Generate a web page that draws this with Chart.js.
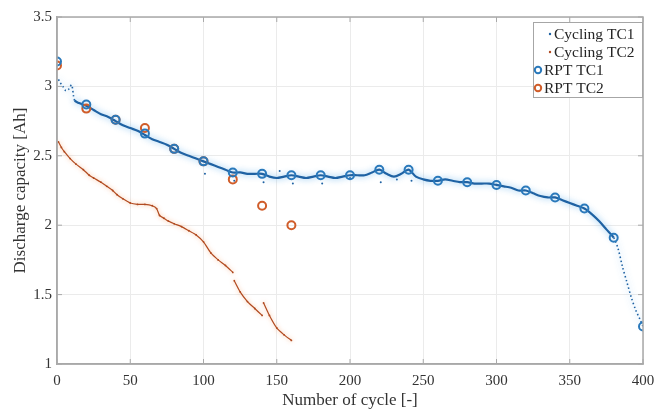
<!DOCTYPE html>
<html>
<head>
<meta charset="utf-8">
<title>Discharge capacity</title>
<script src="https://cdn.jsdelivr.net/npm/chart.js@4/dist/chart.umd.min.js"></script>
<style>
  html, body { margin: 0; padding: 0; background: #fff; }
</style>
</head>
<body>
<canvas id="capacityChart" width="658" height="411"></canvas>
<script>
// Cycling data, cell TC1 (cycle number / capacity in Ah)
const cycTc1Cycles = [1, 2, 4, 6, 8, 10, 12, 15, 20, 25, 30, 35, 40, 45, 50, 55, 60, 65, 70, 75, 80, 85, 90, 95,
  100, 105, 110, 115, 120, 125, 130, 135, 140, 145, 150, 155, 160, 165, 170, 175, 180, 185, 190, 195,
  200, 205, 210, 215, 220, 225, 230, 235, 240, 245, 250, 255, 260, 265, 270, 275, 280, 285, 290, 295,
  300, 305, 310, 315, 320, 325, 330, 335, 340, 345, 350, 355, 360, 365, 370, 375, 380, 383, 386, 389,
  392, 395, 398, 400];
const cycTc1Capacity = [3.05, 3.03, 3.00, 2.97, 2.98, 3.01, 2.90, 2.88, 2.86, 2.83, 2.80, 2.78, 2.75, 2.72, 2.70, 2.68, 2.65, 2.62, 2.60, 2.58, 2.55, 2.52, 2.50, 2.48,
  2.46, 2.44, 2.42, 2.40, 2.38, 2.38, 2.37, 2.37, 2.37, 2.35, 2.34, 2.35, 2.36, 2.35, 2.34, 2.35, 2.36, 2.35, 2.34, 2.35,
  2.36, 2.36, 2.36, 2.38, 2.40, 2.37, 2.35, 2.37, 2.40, 2.35, 2.33, 2.32, 2.32, 2.33, 2.32, 2.31, 2.31, 2.30, 2.30, 2.30,
  2.29, 2.28, 2.27, 2.25, 2.25, 2.23, 2.21, 2.20, 2.20, 2.18, 2.16, 2.14, 2.12, 2.08, 2.03, 1.97, 1.91, 1.83, 1.70, 1.59,
  1.48, 1.39, 1.32, 1.27];

// stray TC1 cycling points off the main trace
const cycTc1StrayCycles = [101, 121, 141, 152, 161, 181, 200, 221, 232, 242];
const cycTc1StrayCapacity = [2.37, 2.32, 2.31, 2.39, 2.30, 2.30, 2.34, 2.31, 2.33, 2.32];

// Cycling data, cell TC2 (null = break in the trace)
const cycTc2Cycles = [1, 3, 5, 9, 13, 18, 22, 25, 30, 34, 38, 41, 45, 50, 55, 60, 65, 68, 70, 73, 76, 80, 85, 90, 95,
  100, 105, 110, 115, 120, 120.5, 121, 125, 130, 135, 140, 140.5, 141, 145, 150, 155, 160];
const cycTc2Capacity = [2.60, 2.56, 2.53, 2.48, 2.44, 2.40, 2.36, 2.34, 2.31, 2.28, 2.25, 2.22, 2.19, 2.16, 2.15, 2.15, 2.14, 2.12, 2.07, 2.05, 2.03, 2.01, 1.99, 1.96, 1.93,
  1.88, 1.80, 1.75, 1.71, 1.66, null, 1.60, 1.52, 1.45, 1.40, 1.35, null, 1.44, 1.35, 1.26, 1.21, 1.17];

// Reference performance tests
const rptTc1Cycles = [0, 20, 40, 60, 80, 100, 120, 140, 160, 180, 200, 220, 240, 260, 280, 300, 320, 340, 360, 380, 400];
const rptTc1Capacity = [3.18, 2.87, 2.76, 2.66, 2.55, 2.46, 2.38, 2.37, 2.36, 2.36, 2.36, 2.40, 2.40, 2.32, 2.31, 2.29, 2.25, 2.20, 2.12, 1.91, 1.27];
const rptTc2Cycles = [0, 20, 40, 60, 80, 100, 120, 140, 160];
const rptTc2Capacity = [3.15, 2.84, 2.76, 2.70, 2.55, 2.46, 2.33, 2.14, 2.00];

// Axis ticks
const xTickValues = [0, 50, 100, 150, 200, 250, 300, 350, 400];
const xTickLabels = ['0', '50', '100', '150', '200', '250', '300', '350', '400'];
const yTickValues = [1, 1.5, 2, 2.5, 3, 3.5];
const yTickLabels = ['1', '1.5', '2', '2.5', '3', '3.5'];

const BLUE = '#1f62a3';
const BLUE_RPT = '#2a79bb';
const ORANGE = '#b0491f';
const ORANGE_RPT = '#d05d2a';
const SERIF = '"Liberation Serif", "Times New Roman", serif';

function toPoints(xs, ys) {
  return xs.map((x, i) => ({ x: x, y: ys[i] }));
}

// soft glow behind the cycling traces
const haloPlugin = {
  id: 'halo',
  beforeDatasetDraw(chart, args) {
    const ds = chart.data.datasets[args.index];
    if (!ds.halo) return;
    const ctx = chart.ctx;
    ctx.save();
    ctx.shadowColor = ds.halo.color;
    ctx.shadowBlur = ds.halo.blur;
  },
  afterDatasetDraw(chart, args) {
    const ds = chart.data.datasets[args.index];
    if (ds.halo) chart.ctx.restore();
  }
};

// axes box with inward ticks on all four sides
const boxPlugin = {
  id: 'box',
  afterDatasetsDraw(chart) {
    const { ctx, chartArea: a, scales } = chart;
    ctx.save();
    ctx.strokeStyle = '#a9a9a9';
    ctx.lineWidth = 1.5;
    ctx.strokeRect(a.left, a.top, a.right - a.left, a.bottom - a.top);
    ctx.lineWidth = 1;
    ctx.beginPath();
    xTickValues.forEach(v => {
      const px = scales.x.getPixelForValue(v);
      ctx.moveTo(px, a.bottom); ctx.lineTo(px, a.bottom - 5);
      ctx.moveTo(px, a.top); ctx.lineTo(px, a.top + 5);
    });
    yTickValues.forEach(v => {
      const py = scales.y.getPixelForValue(v);
      ctx.moveTo(a.left, py); ctx.lineTo(a.left + 5, py);
      ctx.moveTo(a.right, py); ctx.lineTo(a.right - 5, py);
    });
    ctx.stroke();
    ctx.restore();
  }
};

// legend box in the upper right corner
const legendPlugin = {
  id: 'cornerLegend',
  afterDraw(chart) {
    const { ctx, chartArea: a } = chart;
    const entries = chart.data.datasets.filter(ds => ds.legendMarker);
    const boxW = 110, boxH = 76;
    const x0 = a.right - boxW, y0 = a.top + 5;
    ctx.save();
    ctx.fillStyle = '#ffffff';
    ctx.fillRect(x0, y0, boxW, boxH);
    ctx.strokeStyle = '#a6a6a6';
    ctx.lineWidth = 1;
    ctx.strokeRect(x0 + 0.5, y0 + 0.5, boxW - 1, boxH - 1);
    ctx.font = '15.5px ' + SERIF;
    ctx.textBaseline = 'middle';
    ctx.textAlign = 'left';
    entries.forEach((ds, i) => {
      const cy = y0 + 12 + i * 18;
      if (ds.legendMarker === 'dot') {
        ctx.fillStyle = ds.borderColor;
        ctx.beginPath();
        ctx.arc(x0 + 17, cy, 1.2, 0, Math.PI * 2);
        ctx.fill();
        ctx.fillStyle = '#262626';
        ctx.fillText(ds.label, x0 + 21, cy + 1);
      } else {
        ctx.strokeStyle = ds.pointBorderColor;
        ctx.lineWidth = 2;
        ctx.beginPath();
        ctx.arc(x0 + 5, cy, 3.2, 0, Math.PI * 2);
        ctx.stroke();
        ctx.fillStyle = '#262626';
        ctx.fillText(ds.label, x0 + 11, cy + 1);
      }
    });
    ctx.restore();
  }
};

const ctx = document.getElementById('capacityChart').getContext('2d');
new Chart(ctx, {
  type: 'line',
  data: {
    datasets: [
      {
        label: 'Cycling TC1',
        legendMarker: 'dot',
        data: toPoints(cycTc1Cycles, cycTc1Capacity),
        borderColor: BLUE,
        backgroundColor: BLUE,
        borderWidth: 2.2,
        pointRadius: 0,
        tension: 0.3,
        halo: { color: 'rgba(95, 175, 235, 0.85)', blur: 6 },
        segment: {
          borderDash: c => (c.p0.parsed.x >= 380 || c.p1.parsed.x <= 12) ? [1.5, 2.5] : undefined,
          borderWidth: c => (c.p0.parsed.x >= 380 || c.p1.parsed.x <= 12) ? 1.6 : undefined
        },
        order: 1
      },
      {
        label: 'Cycling TC1 stray',
        data: toPoints(cycTc1StrayCycles, cycTc1StrayCapacity),
        showLine: false,
        pointRadius: 1,
        pointBackgroundColor: BLUE,
        pointBorderWidth: 0,
        order: 1
      },
      {
        label: 'Cycling TC2',
        legendMarker: 'dot',
        data: toPoints(cycTc2Cycles, cycTc2Capacity),
        borderColor: ORANGE,
        backgroundColor: ORANGE,
        borderWidth: 1.2,
        pointRadius: 0.9,
        pointBorderWidth: 0,
        pointBackgroundColor: ORANGE,
        spanGaps: false,
        tension: 0.2,
        halo: { color: 'rgba(245, 170, 120, 0.7)', blur: 4 },
        order: 2
      },
      {
        label: 'RPT TC1',
        legendMarker: 'circle',
        data: toPoints(rptTc1Cycles, rptTc1Capacity),
        showLine: false,
        pointRadius: 4,
        pointBorderWidth: 2,
        pointBorderColor: BLUE_RPT,
        pointBackgroundColor: 'rgba(0,0,0,0)',
        order: 0
      },
      {
        label: 'RPT TC2',
        legendMarker: 'circle',
        data: toPoints(rptTc2Cycles, rptTc2Capacity),
        showLine: false,
        pointRadius: 4,
        pointBorderWidth: 2,
        pointBorderColor: ORANGE_RPT,
        pointBackgroundColor: 'rgba(0,0,0,0)',
        order: 0.5
      }
    ]
  },
  options: {
    responsive: false,
    animation: false,
    devicePixelRatio: 1,
    layout: { padding: { top: 17, right: 15, left: 0, bottom: 0 } },
    plugins: {
      legend: { display: false },
      tooltip: { enabled: false }
    },
    scales: {
      x: {
        type: 'linear',
        min: 0,
        max: 400,
        afterBuildTicks: s => { s.ticks = xTickValues.map(v => ({ value: v })); },
        afterFit: s => { s.height = 47; s.paddingLeft = 0; s.paddingRight = 0; },
        grid: { color: '#ebebeb', drawTicks: false },
        border: { display: true, color: '#a9a9a9', width: 1.5 },
        ticks: {
          padding: 8,
          color: '#333',
          font: { family: SERIF, size: 15 },
          maxRotation: 0,
          callback: (v, i) => xTickLabels[i]
        },
        title: {
          display: true,
          text: 'Number of cycle [-]',
          color: '#333',
          font: { family: SERIF, size: 17 },
          padding: { top: 0, bottom: 0 }
        }
      },
      y: {
        min: 1,
        max: 3.5,
        afterBuildTicks: s => { s.ticks = yTickValues.map(v => ({ value: v })); },
        afterFit: s => { s.width = 57; },
        grid: { color: '#ebebeb', drawTicks: false },
        border: { display: true, color: '#a9a9a9', width: 1.5 },
        ticks: {
          padding: 5,
          color: '#333',
          font: { family: SERIF, size: 15 },
          callback: (v, i) => yTickLabels[i]
        },
        title: {
          display: true,
          text: 'Discharge capacity [Ah]',
          color: '#333',
          font: { family: SERIF, size: 17 },
          padding: { top: 10, bottom: 0 }
        }
      }
    }
  },
  plugins: [haloPlugin, boxPlugin, legendPlugin]
});
</script>
</body>
</html>
